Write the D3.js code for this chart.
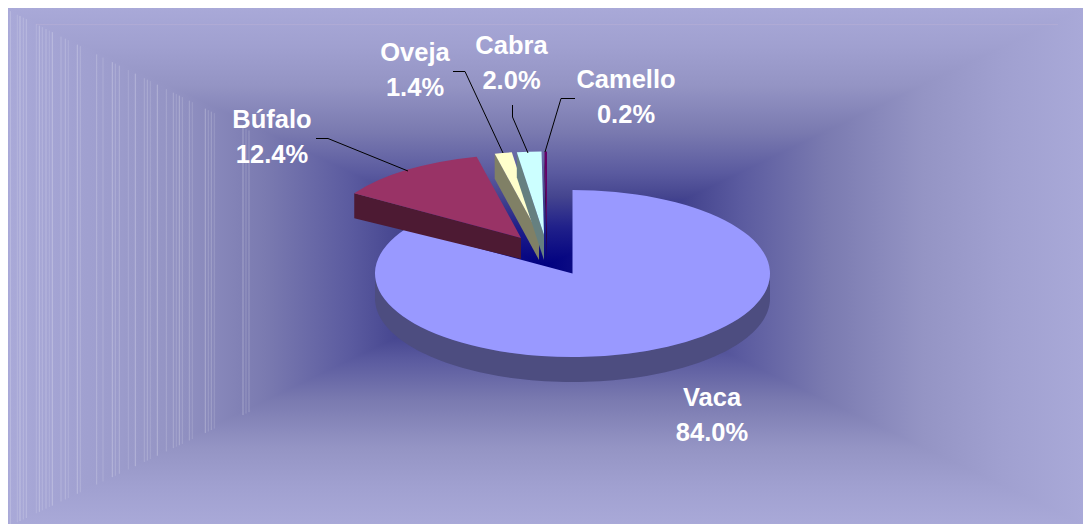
<!DOCTYPE html>
<html><head><meta charset="utf-8">
<script src="https://cdn.jsdelivr.net/npm/d3@7"></script>
<style>html,body{margin:0;padding:0;background:#fff;overflow:hidden}svg{display:block}
text{font-family:"Liberation Sans",Arial,sans-serif;font-weight:700;font-size:25.5px;fill:#fff;text-anchor:middle}</style>
</head><body><svg id="c" width="1083" height="524"></svg>
<script>
const categories=["Vaca","Búfalo","Oveja","Cabra","Camello"];
const shares=[84.0,12.4,1.4,2.0,0.2];
const shareLabels=["84.0%","12.4%","1.4%","2.0%","0.2%"];
const topColors=["#9999ff","#993366","#ffffcc","#ccffff","#660066"];
const wallColors=["#4d4d80","#4d1a33","#808066","#668080","#330033"];
const apexX=[572.5,521,539,544,547];
const apexY=[273.5,238,235,235,235];
const apexDepth=[25,21,25,25,25];
const labelX=[712,272,415,511.5,626];
const labelY=[406,128,61,54,88];
const leaders=[null,[[316,138.5],[328,138.5],[408,171]],[[453,71.5],[465,71.5],[503,153]],[[512.5,105],[512.5,117],[528,153]],[[575,98.5],[561,98.5],[545,152]]];
const streakX=[10.3,17.3,20,23.3,26.3,36.3,39.3,42.3,46,49.3,52.3,61,65.3,68.3,77.3,80.3,96.7,103,112.3,115.3,119.3,128.3,135.3,144.3,147.3,150.3,157.3,166.3,173.3,176.3,179.3,182.3,189.3,192.3,205.3,208.3,211.3,214.3,243,246,249];

const svg=d3.select("#c"), defs=svg.append("defs");
const L=8,T=8,R=1083,B=524,CX=545.5,CY=266;
const stops=[[0,"#000080"],[0.15,"#20208a"],[0.27,"#45458f"],[0.36,"#5a5a9f"],[0.52,"#7a7ab0"],[0.7,"#9494c4"],[0.85,"#a0a0d0"],[1,"#a9a9d8"]];
function grad(id,x1,y1,x2,y2){
  const g=defs.append("linearGradient").attr("id",id).attr("gradientUnits","userSpaceOnUse")
    .attr("x1",x1).attr("y1",y1).attr("x2",x2).attr("y2",y2);
  stops.forEach(s=>g.append("stop").attr("offset",s[0]).attr("stop-color",s[1]));
}
grad("gL",CX,0,L,0);grad("gR",CX,0,R,0);grad("gT",0,CY,0,T);grad("gB",0,CY,0,B);
const poly=d3.line();
[["gL",[[L,T],[L,B],[CX,CY]]],["gR",[[R,T],[R,B],[CX,CY]]],["gT",[[L,T],[R,T],[CX,CY]]],["gB",[[L,B],[R,B],[CX,CY]]]]
 .forEach(([g,p])=>svg.append("path").attr("d",poly(p)+"Z").attr("fill",`url(#${g})`).attr("shape-rendering","crispEdges"));

// streaks inside the left triangle
const topEdge=d3.scaleLinear().domain([10,214]).range([11,113]);
const botEdge=d3.scaleLinear().domain([20,243]).range([521,415]);
svg.append("g").selectAll("line").data(streakX).join("line")
 .attr("x1",d=>d).attr("x2",d=>d).attr("y1",d=>topEdge(d)).attr("y2",d=>botEdge(d))
 .attr("stroke","#fff").attr("stroke-opacity",(d,i)=>[.22,.15,.28,.18][i%4]).attr("stroke-width",1);
svg.append("line").attr("x1",36).attr("x2",1058).attr("y1",24.5).attr("y2",24.5).attr("stroke","#c4b4d8").attr("stroke-opacity",.35);

// pie
const RX=197.5,K=83.5/197.5,DEPTH=25;
const pie=d3.pie().sort(null).value(d=>d)(shares);
const arc=d3.arc().innerRadius(0).outerRadius(RX);
const rim=(i,a)=>[apexX[i]+RX*Math.sin(a),apexY[i]-RX*K*Math.cos(a)];
pie.forEach((d,i)=>{
  if(i===0){
    const as=d3.range(Math.PI/2,3*Math.PI/2+.001,Math.PI/90).map(a=>rim(0,a));
    const low=as.map(p=>[p[0],p[1]+DEPTH]).reverse();
    svg.append("path").attr("d",poly(as.concat(low))+"Z").attr("fill",wallColors[0]);
  } else {
    const p=rim(i,d.startAngle),a=[apexX[i],apexY[i]];
    svg.append("path").attr("d",poly([p,a,[a[0],a[1]+apexDepth[i]],[p[0],p[1]+DEPTH]])+"Z").attr("fill",wallColors[i]);
  }
  svg.append("path").attr("d",arc(d))
    .attr("transform",`translate(${apexX[i]},${apexY[i]}) scale(1,${K})`).attr("fill",topColors[i]);
});
// leaders
leaders.forEach(l=>{ if(l) svg.append("path").attr("d",poly(l)).attr("fill","none").attr("stroke","#000").attr("stroke-width",1); });
// labels
categories.forEach((c,i)=>{
  svg.append("text").attr("x",labelX[i]).attr("y",labelY[i]).text(c);
  svg.append("text").attr("x",labelX[i]).attr("y",labelY[i]+34.5).text(shareLabels[i]);
});
</script></body></html>
